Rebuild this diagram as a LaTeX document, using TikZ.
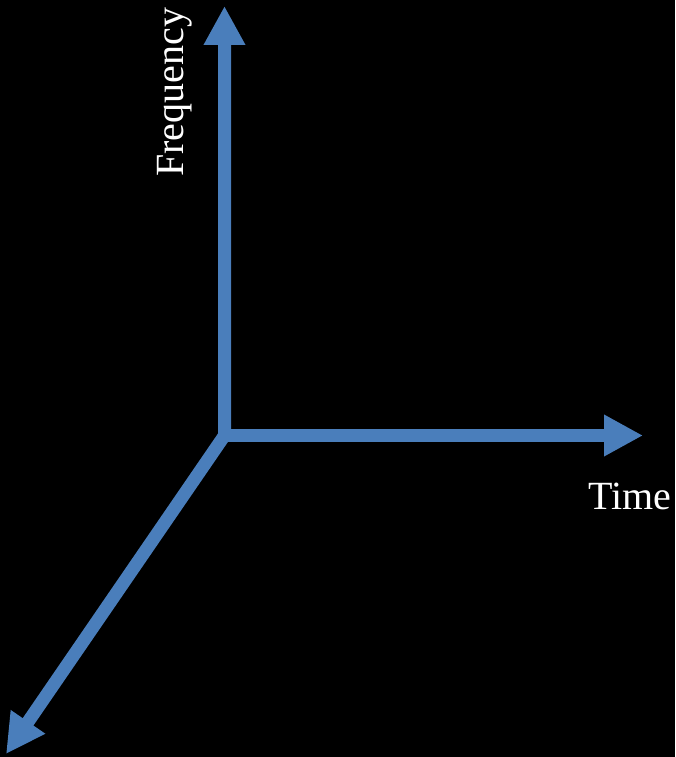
\documentclass[tikz,border=0pt]{standalone}
\usepackage{fontspec}
\setmainfont{Liberation Serif}
\newfontfamily\labelfont{Liberation Serif}
\usetikzlibrary{arrows.meta,positioning}
\definecolor{axisblue}{RGB}{74,126,187}

\begin{document}
\begin{tikzpicture}[x=1pt,y=-1pt,
  axis/.style={draw=axisblue, line width=13pt, line join=miter, {Triangle[length=39pt,width=39pt]}-{Triangle[length=39pt,width=39pt]}},
  axisone/.style={draw=axisblue, line width=13pt, -{Triangle[length=39pt,width=39pt]}},
  lbl/.style={text=white, inner sep=0pt, font=\labelfont\fontsize{40}{44}\selectfont},
]
\fill[black] (0,0) rectangle (675,757);
\useasboundingbox (0,0) rectangle (675,757);
\coordinate (o) at (224.5,435.5);
\coordinate (ftip) at (224.5,6);
\coordinate (ttip) at (643,435.5);
\coordinate (dtip) at (6,754);
\draw[axis] (ftip) -- (o) -- (dtip);
\draw[axisone] (o) -- (ttip);
\node[lbl, rotate=90, anchor=base west] (freq) at (183,177) {Frequency};
\node[lbl, anchor=base west] (time) at (588,509) {Time};
\end{tikzpicture}
\end{document}
